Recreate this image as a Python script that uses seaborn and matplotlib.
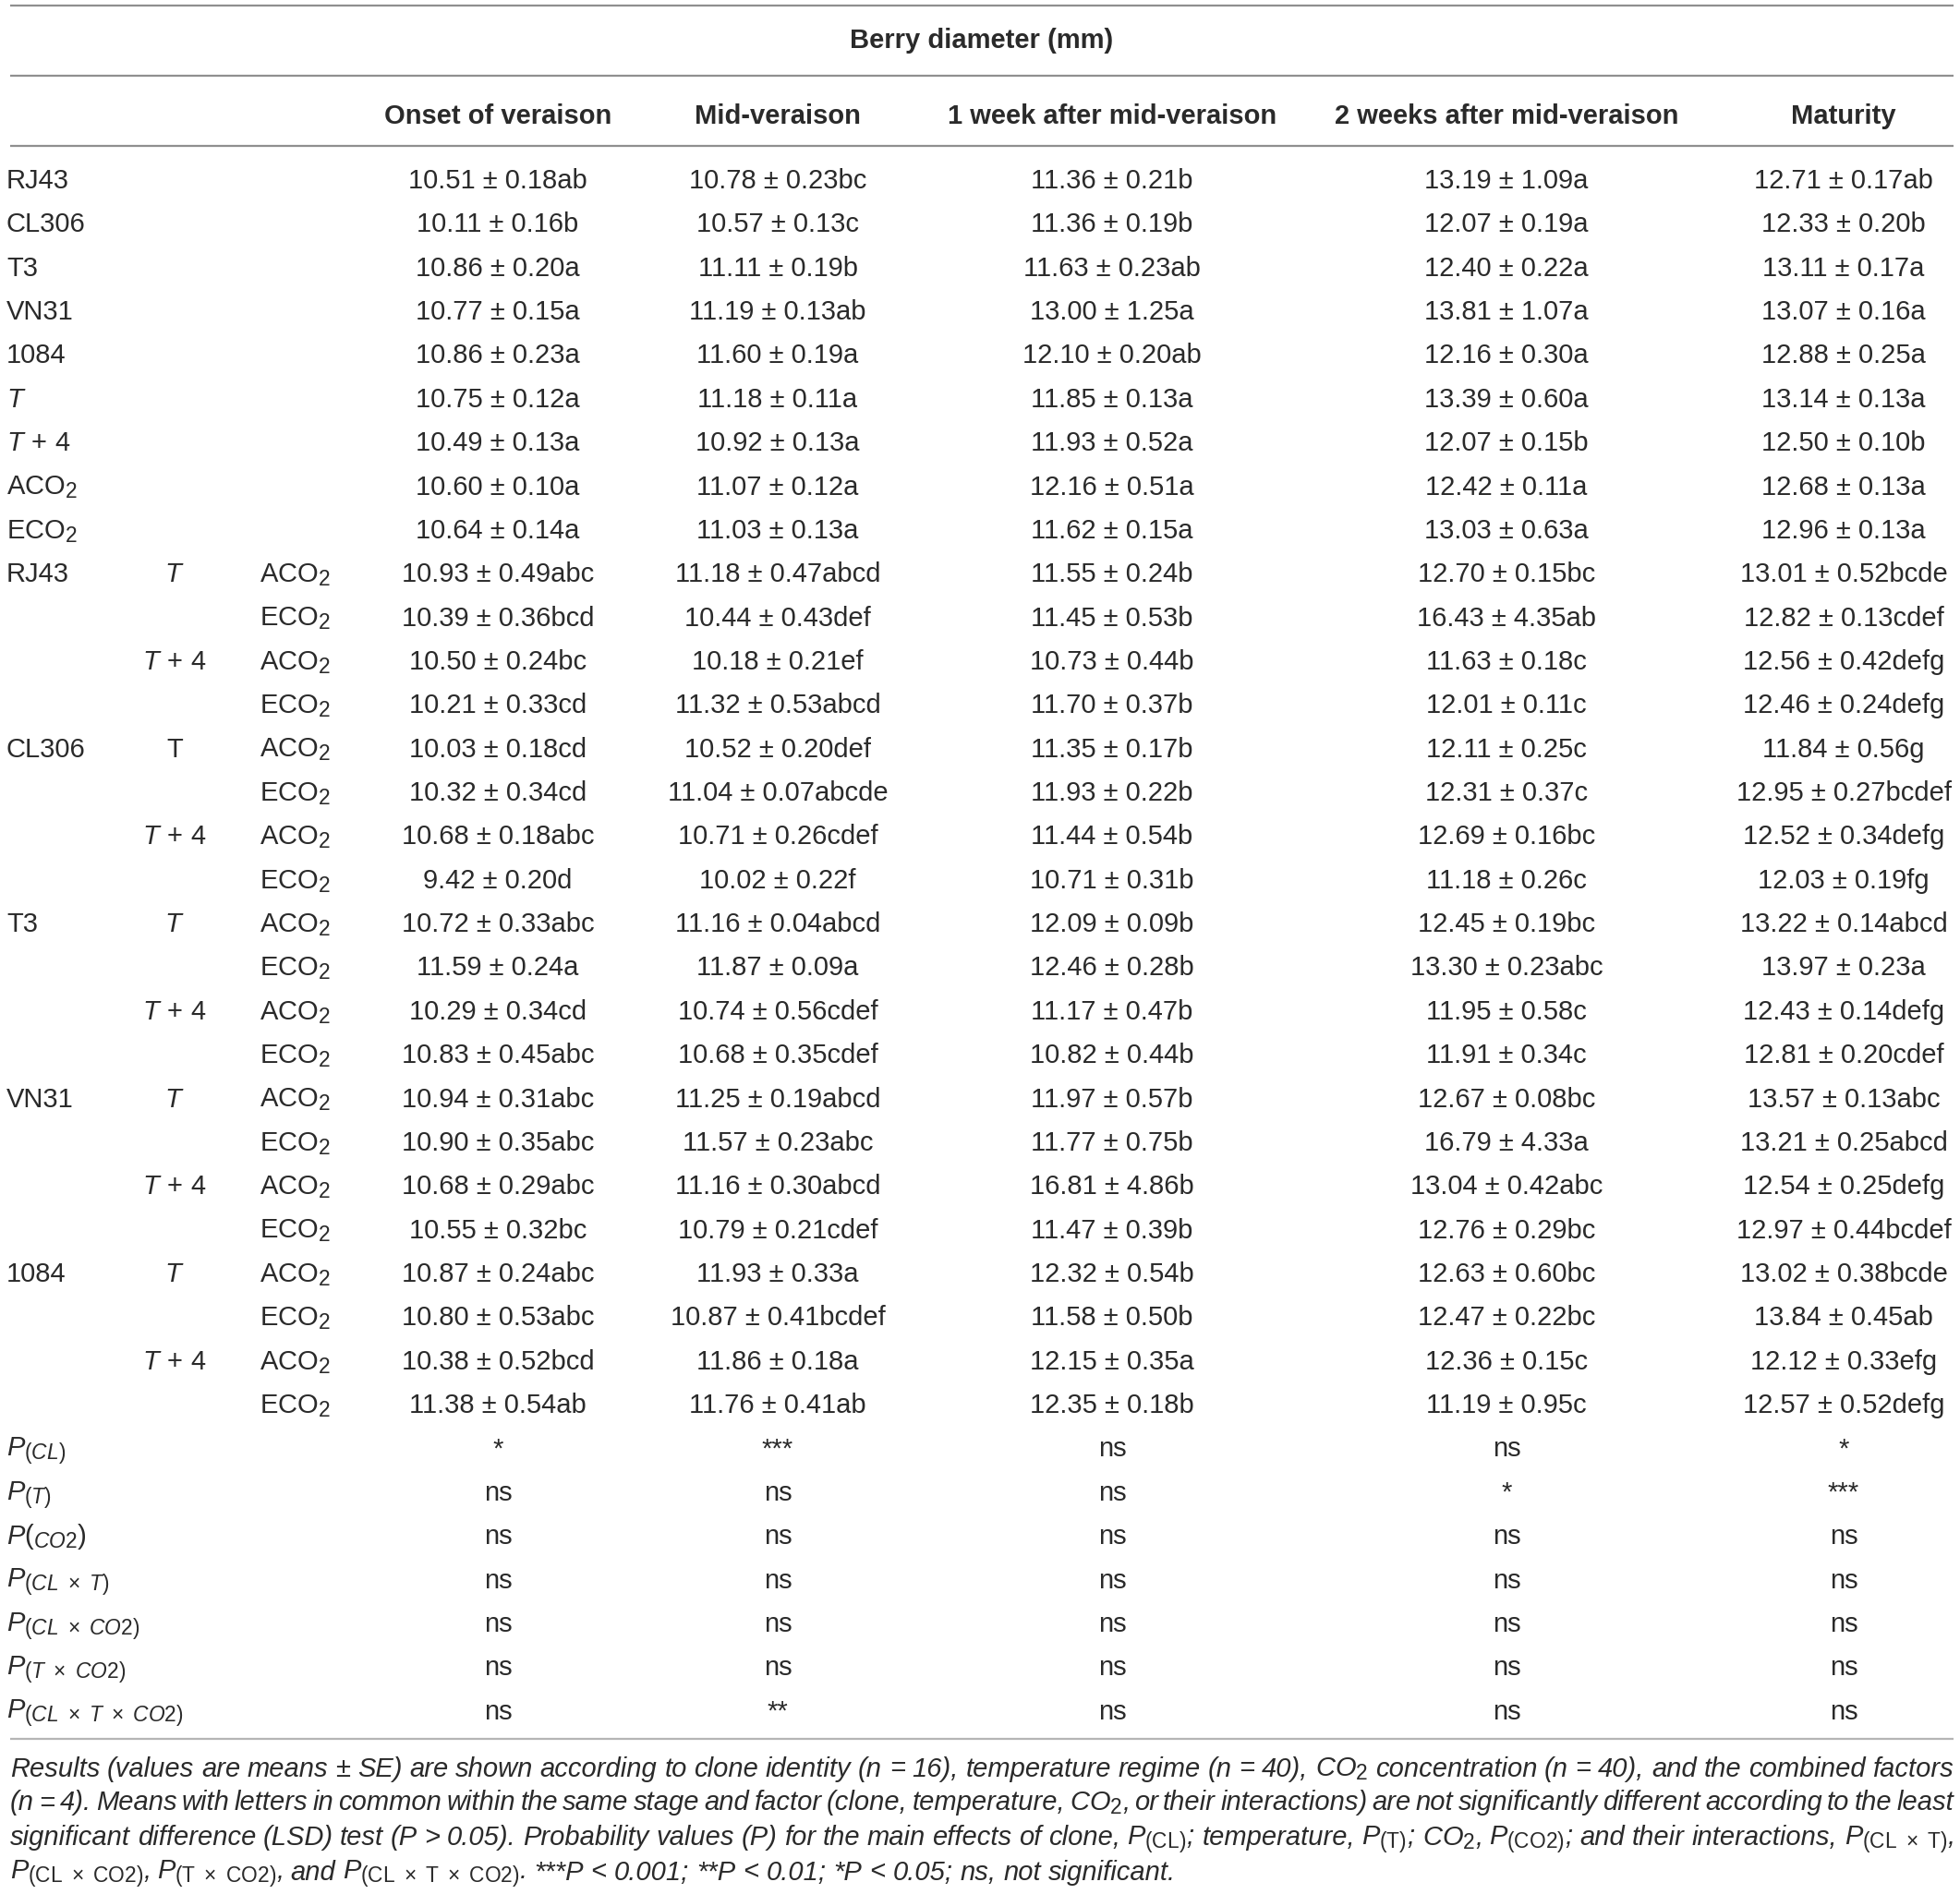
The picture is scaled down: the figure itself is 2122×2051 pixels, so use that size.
import re
import matplotlib
matplotlib.use("Agg")
import matplotlib.pyplot as plt
import matplotlib._mathtext as mathtext_internal
import seaborn as sns
import pandas as pd

# ---- table content ----
title = "Berry diameter (mm)"
stages = ["Onset of veraison", "Mid-veraison", "1 week after mid-veraison",
          "2 weeks after mid-veraison", "Maturity"]

# main effects rows (clone, temperature, CO2)
main_labels = ["RJ43", "CL306", "T3", "VN31", "1084", r"$T$", r"$T\,+\,4$",
               r"ACO$_2$", r"ECO$_2$"]
onset_main = ["10.51 ± 0.18ab", "10.11 ± 0.16b", "10.86 ± 0.20a", "10.77 ± 0.15a",
              "10.86 ± 0.23a", "10.75 ± 0.12a", "10.49 ± 0.13a", "10.60 ± 0.10a",
              "10.64 ± 0.14a"]
mid_main = ["10.78 ± 0.23bc", "10.57 ± 0.13c", "11.11 ± 0.19b", "11.19 ± 0.13ab",
            "11.60 ± 0.19a", "11.18 ± 0.11a", "10.92 ± 0.13a", "11.07 ± 0.12a",
            "11.03 ± 0.13a"]
week1_main = ["11.36 ± 0.21b", "11.36 ± 0.19b", "11.63 ± 0.23ab", "13.00 ± 1.25a",
              "12.10 ± 0.20ab", "11.85 ± 0.13a", "11.93 ± 0.52a", "12.16 ± 0.51a",
              "11.62 ± 0.15a"]
week2_main = ["13.19 ± 1.09a", "12.07 ± 0.19a", "12.40 ± 0.22a", "13.81 ± 1.07a",
              "12.16 ± 0.30a", "13.39 ± 0.60a", "12.07 ± 0.15b", "12.42 ± 0.11a",
              "13.03 ± 0.63a"]
maturity_main = ["12.71 ± 0.17ab", "12.33 ± 0.20b", "13.11 ± 0.17a", "13.07 ± 0.16a",
                 "12.88 ± 0.25a", "13.14 ± 0.13a", "12.50 ± 0.10b", "12.68 ± 0.13a",
                 "12.96 ± 0.13a"]

# interaction rows: clone x temperature x CO2
clones = ["RJ43", "CL306", "T3", "VN31", "1084"]
temp_labels = [r"$T$", r"$T\,+\,4$", "T", r"$T\,+\,4$", r"$T$", r"$T\,+\,4$",
               r"$T$", r"$T\,+\,4$", r"$T$", r"$T\,+\,4$"]
co2_labels = [r"ACO$_2$", r"ECO$_2$"]
onset_int = ["10.93 ± 0.49abc", "10.39 ± 0.36bcd", "10.50 ± 0.24bc", "10.21 ± 0.33cd",
             "10.03 ± 0.18cd", "10.32 ± 0.34cd", "10.68 ± 0.18abc", "9.42 ± 0.20d",
             "10.72 ± 0.33abc", "11.59 ± 0.24a", "10.29 ± 0.34cd", "10.83 ± 0.45abc",
             "10.94 ± 0.31abc", "10.90 ± 0.35abc", "10.68 ± 0.29abc", "10.55 ± 0.32bc",
             "10.87 ± 0.24abc", "10.80 ± 0.53abc", "10.38 ± 0.52bcd", "11.38 ± 0.54ab"]
mid_int = ["11.18 ± 0.47abcd", "10.44 ± 0.43def", "10.18 ± 0.21ef", "11.32 ± 0.53abcd",
           "10.52 ± 0.20def", "11.04 ± 0.07abcde", "10.71 ± 0.26cdef", "10.02 ± 0.22f",
           "11.16 ± 0.04abcd", "11.87 ± 0.09a", "10.74 ± 0.56cdef", "10.68 ± 0.35cdef",
           "11.25 ± 0.19abcd", "11.57 ± 0.23abc", "11.16 ± 0.30abcd", "10.79 ± 0.21cdef",
           "11.93 ± 0.33a", "10.87 ± 0.41bcdef", "11.86 ± 0.18a", "11.76 ± 0.41ab"]
week1_int = ["11.55 ± 0.24b", "11.45 ± 0.53b", "10.73 ± 0.44b", "11.70 ± 0.37b",
             "11.35 ± 0.17b", "11.93 ± 0.22b", "11.44 ± 0.54b", "10.71 ± 0.31b",
             "12.09 ± 0.09b", "12.46 ± 0.28b", "11.17 ± 0.47b", "10.82 ± 0.44b",
             "11.97 ± 0.57b", "11.77 ± 0.75b", "16.81 ± 4.86b", "11.47 ± 0.39b",
             "12.32 ± 0.54b", "11.58 ± 0.50b", "12.15 ± 0.35a", "12.35 ± 0.18b"]
week2_int = ["12.70 ± 0.15bc", "16.43 ± 4.35ab", "11.63 ± 0.18c", "12.01 ± 0.11c",
             "12.11 ± 0.25c", "12.31 ± 0.37c", "12.69 ± 0.16bc", "11.18 ± 0.26c",
             "12.45 ± 0.19bc", "13.30 ± 0.23abc", "11.95 ± 0.58c", "11.91 ± 0.34c",
             "12.67 ± 0.08bc", "16.79 ± 4.33a", "13.04 ± 0.42abc", "12.76 ± 0.29bc",
             "12.63 ± 0.60bc", "12.47 ± 0.22bc", "12.36 ± 0.15c", "11.19 ± 0.95c"]
maturity_int = ["13.01 ± 0.52bcde", "12.82 ± 0.13cdef", "12.56 ± 0.42defg", "12.46 ± 0.24defg",
                "11.84 ± 0.56g", "12.95 ± 0.27bcdef", "12.52 ± 0.34defg", "12.03 ± 0.19fg",
                "13.22 ± 0.14abcd", "13.97 ± 0.23a", "12.43 ± 0.14defg", "12.81 ± 0.20cdef",
                "13.57 ± 0.13abc", "13.21 ± 0.25abcd", "12.54 ± 0.25defg", "12.97 ± 0.44bcdef",
                "13.02 ± 0.38bcde", "13.84 ± 0.45ab", "12.12 ± 0.33efg", "12.57 ± 0.52defg"]

# probability rows
p_labels = [r"$P_{(CL)}$", r"$P_{(T)}$", r"$P(_{CO2})$", r"$P_{(CL\ \times\ T)}$",
            r"$P_{(CL\ \times\ CO2)}$", r"$P_{(T\ \times\ CO2)}$",
            r"$P_{(CL\ \times\ T\ \times\ CO2)}$"]
p_cl = ["*", "***", "ns", "ns", "*"]
p_t = ["ns", "ns", "ns", "*", "***"]
p_co2 = ["ns", "ns", "ns", "ns", "ns"]
p_cl_t = ["ns", "ns", "ns", "ns", "ns"]
p_cl_co2 = ["ns", "ns", "ns", "ns", "ns"]
p_t_co2 = ["ns", "ns", "ns", "ns", "ns"]
p_cl_t_co2 = ["ns", "**", "ns", "ns", "ns"]

footnote = [
    r"Results (values are means ± SE) are shown according to clone identity (n = 16), "
    r"temperature regime (n = 40), CO$_2$ concentration (n = 40), and the combined factors",
    r"(n = 4). Means with letters in common within the same stage and factor (clone, "
    r"temperature, CO$_2$, or their interactions) are not significantly different according to the least",
    r"significant difference (LSD) test (P > 0.05). Probability values (P) for the main effects of "
    r"clone, $P_{\mathrm{(CL)}}$; temperature, $P_{\mathrm{(T)}}$; CO$_2$, $P_{\mathrm{(CO2)}}$; "
    r"and their interactions, $P_{\mathrm{(CL\ \times\ T)}}$,",
    r"$P_{\mathrm{(CL\ \times\ CO2)}}$, $P_{\mathrm{(T\ \times\ CO2)}}$, and "
    r"$P_{\mathrm{(CL\ \times\ T\ \times\ CO2)}}$. ***P < 0.001; **P < 0.01; *P < 0.05; ns, not significant.",
]

# ---- assemble rows ----
rows = []
main_cols = [onset_main, mid_main, week1_main, week2_main, maturity_main]
for i, lab in enumerate(main_labels):
    rows.append([lab, "", ""] + [c[i] for c in main_cols])
int_cols = [onset_int, mid_int, week1_int, week2_int, maturity_int]
for i in range(len(onset_int)):
    clone = clones[i // 4] if i % 4 == 0 else ""
    temp = temp_labels[i // 2] if i % 2 == 0 else ""
    rows.append([clone, temp, co2_labels[i % 2]] + [c[i] for c in int_cols])
p_vals = [p_cl, p_t, p_co2, p_cl_t, p_cl_co2, p_t_co2, p_cl_t_co2]
for lab, vals in zip(p_labels, p_vals):
    rows.append([lab, "", ""] + vals)
table = pd.DataFrame(rows, columns=["factor", "temp", "co2"] + stages)

# ---- drawing ----
sns.set_theme(style="white")
plt.rcParams["font.family"] = ["Liberation Sans", "DejaVu Sans"]
plt.rcParams["mathtext.fontset"] = "custom"
plt.rcParams["mathtext.rm"] = "Liberation Sans"
plt.rcParams["mathtext.it"] = "Liberation Sans:italic"
plt.rcParams["mathtext.bf"] = "Liberation Sans:bold"
# slightly larger subscripts, as in the typeset original
mathtext_internal.SHRINK_FACTOR = 0.78

W, H = 2122, 2051
fig = plt.figure(figsize=(W / 100, H / 100), dpi=100)
ax = fig.add_axes([0, 0, 1, 1])
ax.set_xlim(0, W)
ax.set_ylim(H, 0)
ax.axis("off")

txt = "#2a2a2a"
fs = 21
base = 0.36 * fs * 100 / 72  # center -> baseline offset

x_factor, x_temp, x_co2 = 7, 189, 319
x_stage = [539, 842, 1204, 1631, 1996]

rule = "#8f8f8f"
ax.hlines([6, 82, 158], 11, 2115, color=rule, lw=1.6)
ax.hlines([1883], 11, 2115, color="#b5b5b5", lw=1.6)

ax.text(1063, 41 + base, title, ha="center", va="baseline", fontsize=fs,
        fontweight="bold", color=txt)
for x, s in zip(x_stage, stages):
    ax.text(x, 123 + base, s, ha="center", va="baseline", fontsize=fs,
            fontweight="bold", color=txt)

y0, dy = 193.5, 47.36
for r, row in table.iterrows():
    y = y0 + r * dy + base
    ax.text(x_factor, y, row["factor"], ha="left", va="baseline", fontsize=fs, color=txt)
    if row["temp"]:
        ax.text(x_temp, y, row["temp"], ha="center", va="baseline", fontsize=fs, color=txt)
    if row["co2"]:
        ax.text(x_co2, y, row["co2"], ha="center", va="baseline", fontsize=fs, color=txt)
    for x, s in zip(x_stage, stages):
        ax.text(x, y, row[s], ha="center", va="baseline", fontsize=fs, color=txt)

# footnote, justified word by word
fn_fs = 21
renderer = fig.canvas.get_renderer()
fn_y = [1913, 1950, 1988, 2025]
x_left, x_right = 11, 2115
for k, (line, yy) in enumerate(zip(footnote, fn_y)):
    words = re.split(r"(?<!\\) ", line)
    items = [ax.text(0, yy + 0.36 * fn_fs * 100 / 72, w, ha="left", va="baseline",
                     fontsize=fn_fs, style="italic", color=txt) for w in words]
    widths = [t.get_window_extent(renderer).width for t in items]
    if k < len(footnote) - 1:
        gap = (x_right - x_left - sum(widths)) / (len(words) - 1)
    else:
        gap = 0.278 * fn_fs * 100 / 72
    print(k, round(gap, 1))
    x = x_left
    for t, w in zip(items, widths):
        t.set_x(x)
        x += w + gap

fig.savefig("out.png", dpi=100)
